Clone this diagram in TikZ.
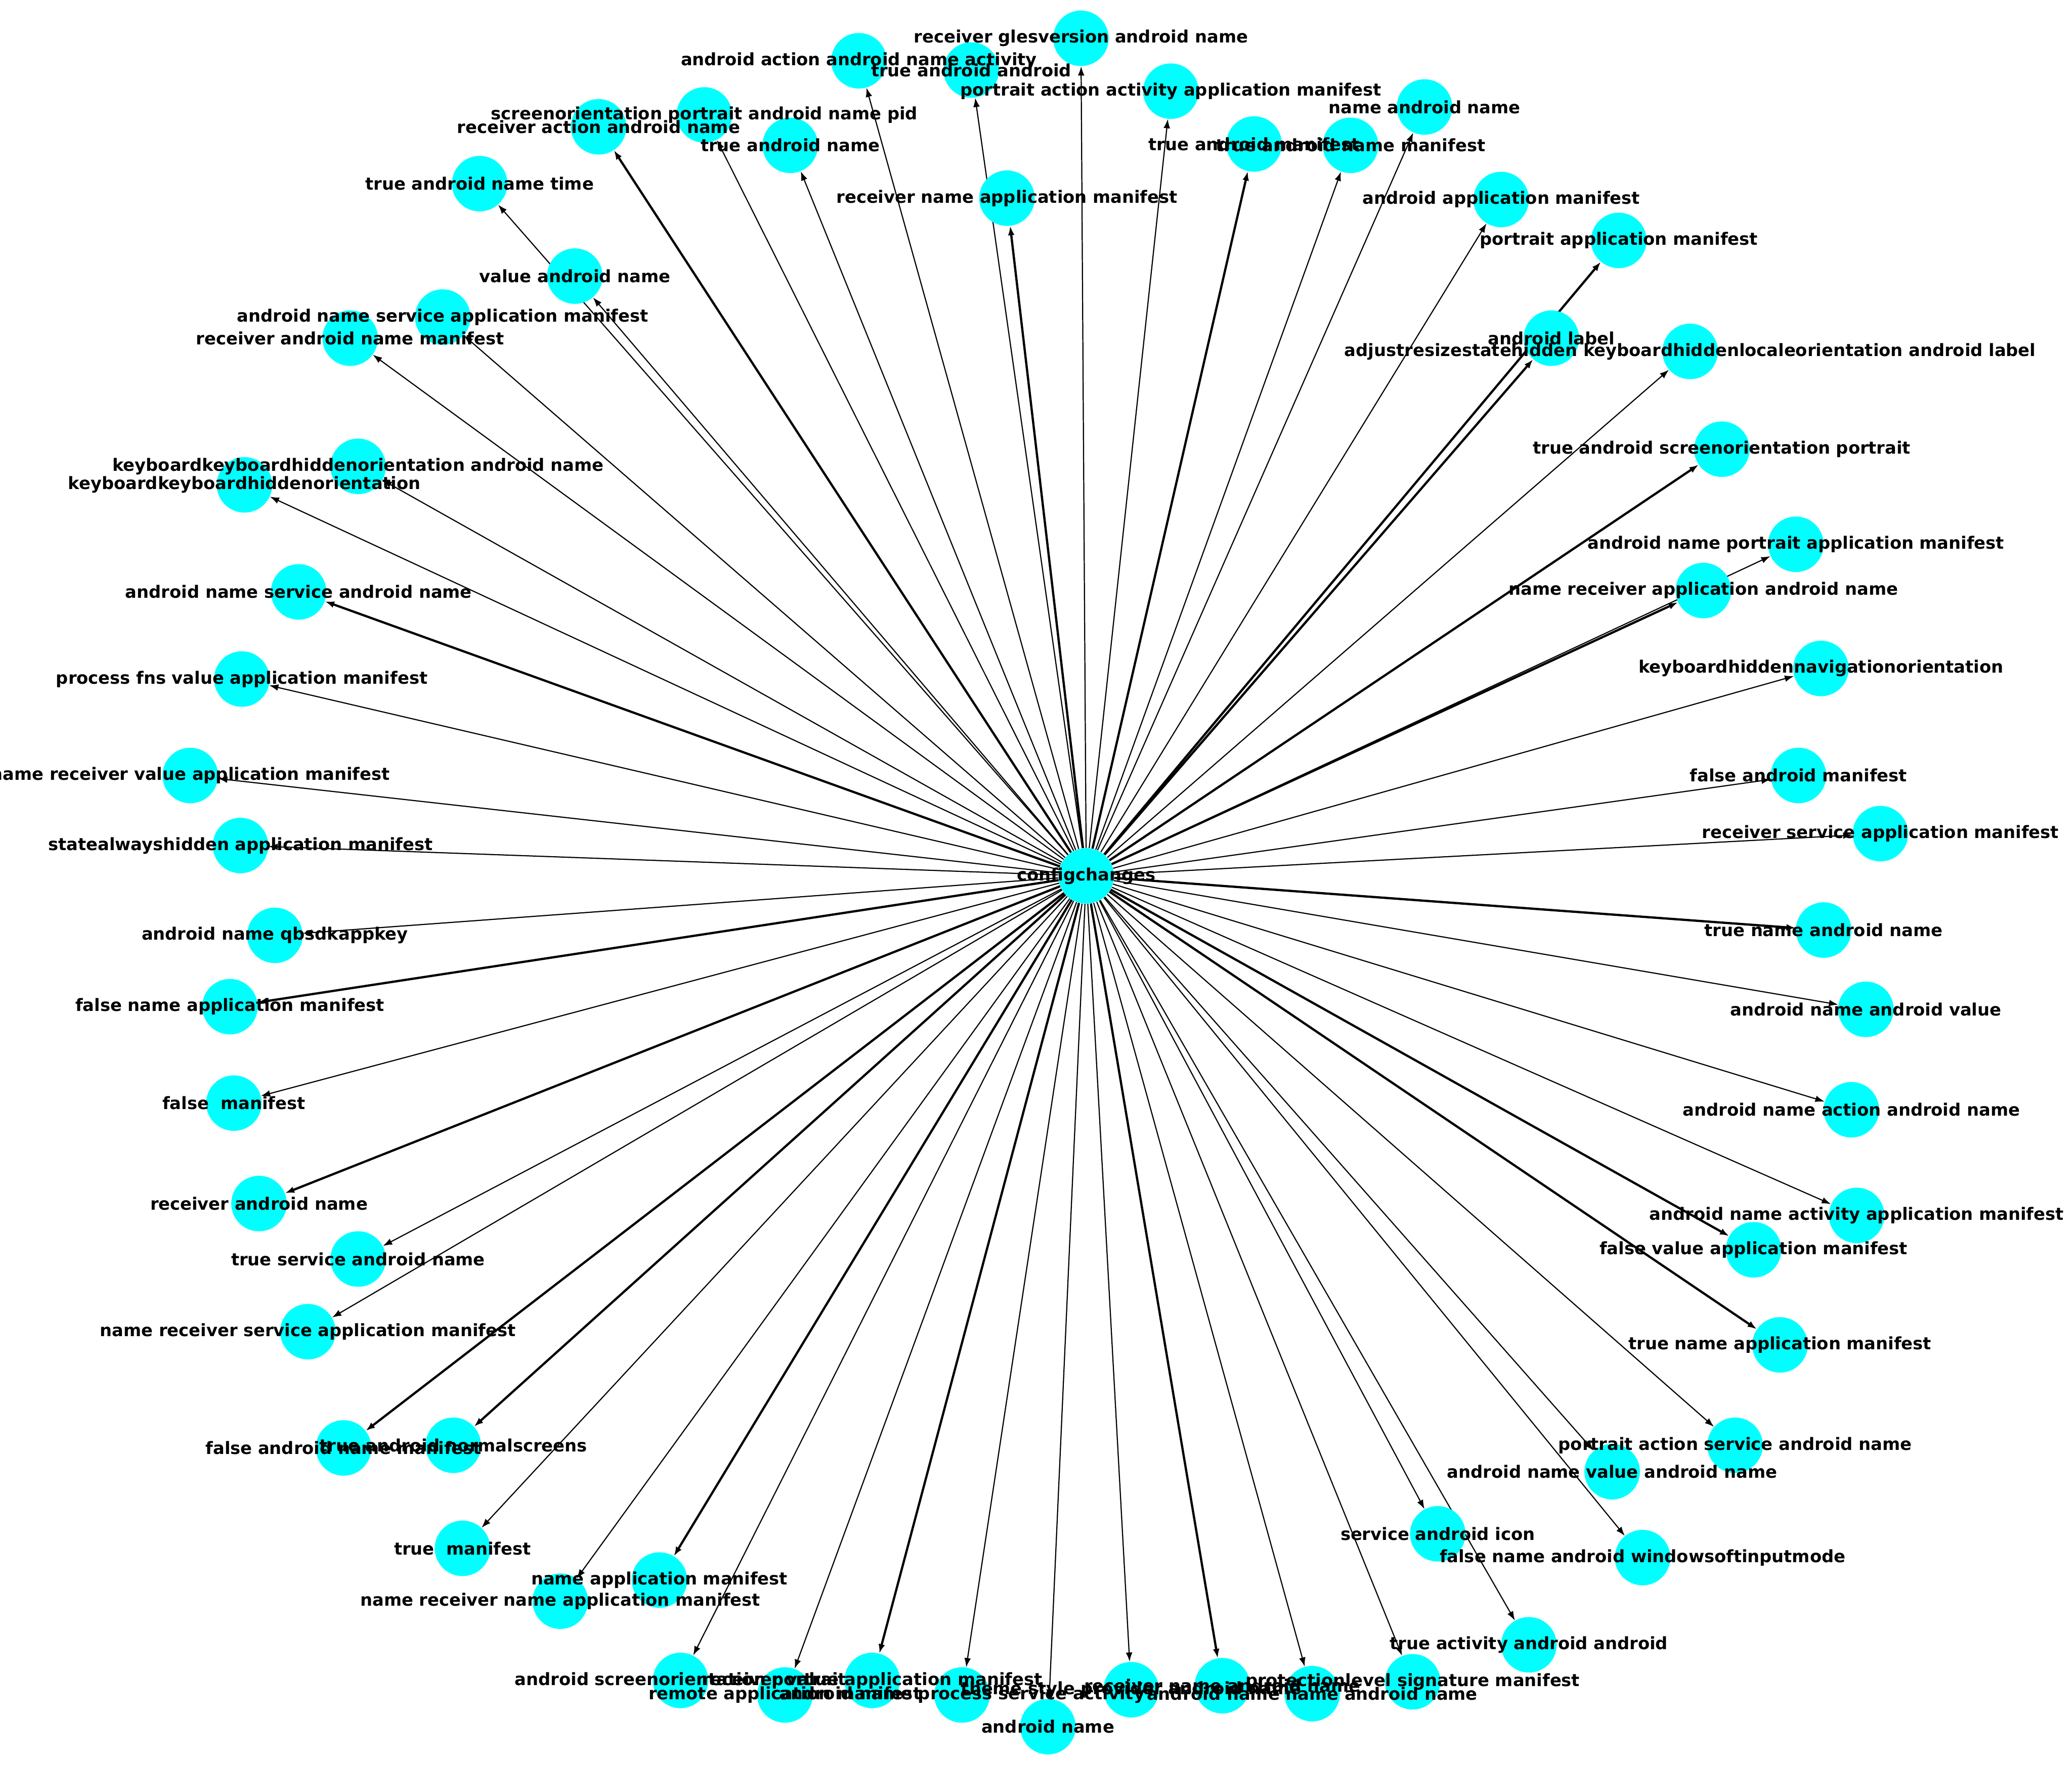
\documentclass[tikz,border=0pt]{standalone}
\usepackage{fontspec}
\setmainfont{DejaVu Sans}
\usetikzlibrary{arrows.meta}
\definecolor{nodecyan}{RGB}{0,255,255}
\pgfdeclarelayer{edges}
\pgfsetlayers{edges,main}

\begin{document}
\begin{tikzpicture}[
    x=1pt, y=-1pt,
    vertex/.style={circle, fill=nodecyan, minimum size=42pt, inner sep=0pt},
    lbl/.style={font=\fontsize{12.9}{14}\selectfont\bfseries, inner sep=0pt},
    link/.style={-{Latex[length=7pt,width=5pt]}, line width=0.85pt},
    boldlink/.style={link, line width=1.7pt}
]
\useasboundingbox (0,0) rectangle (1568,1336);

% hub
\node[vertex] (cfg) at (822,663) {};

% leaves round the hub
\foreach \id/\px/\py/\txt/\wt in {
  1/650/46/android action android name activity/link,
  2/735/53/true android android/link,
  3/818/29/receiver glesversion android name/link,
  4/886/69/portrait action activity application manifest/link,
  5/533/87/screenorientation portrait android name pid/link,
  6/453/96/receiver action android name/boldlink,
  7/598/110/true android name/link,
  8/949/109/true android manifest/boldlink,
  9/1022/110/true android name manifest/link,
  10/1078/81/name android name/link,
  11/762/150/receiver name application manifest/boldlink,
  12/363/139/true android name time/link,
  13/1136/151/android application manifest/link,
  14/1225/182/portrait application manifest/boldlink,
  15/435/209/value android name/link,
  16/335/240/android name service application manifest/link,
  17/265/256/receiver android name manifest/link,
  18/1174/256/android label/boldlink,
  19/1279/266/adjustresizestatehidden keyboardhiddenlocaleorientation android label/link,
  20/271/353/keyboardkeyboardhiddenorientation android name/link,
  21/185/367/keyboardkeyboardhiddenorientation/link,
  22/1303/340/true android screenorientation portrait/boldlink,
  23/1359/412/android name portrait application manifest/link,
  24/1289/447/name receiver application android name/boldlink,
  25/226/448/android name service android name/boldlink,
  26/1378/506/keyboardhiddennavigationorientation/link,
  27/183/514/process fns value application manifest/link,
  28/144/587/name receiver value application manifest/link,
  29/1361/587/false android manifest/link,
  30/182/640/statealwayshidden application manifest/link,
  31/1423/631/receiver service application manifest/link,
  32/208/708/android name qbsdkappkey/link,
  33/1380/704/true name android name/boldlink,
  34/174/762/false name application manifest/boldlink,
  35/1412/764/android name android value/link,
  36/1401/840/android name action android name/link,
  37/177/835/false\ \ manifest/link,
  38/196/911/receiver android name/boldlink,
  39/1405/920/android name activity application manifest/link,
  40/1327/946/false value application manifest/boldlink,
  41/271/953/true service android name/link,
  42/233/1008/name receiver service application manifest/link,
  43/1347/1018/true name application manifest/boldlink,
  44/260/1096/false android name manifest/boldlink,
  45/343/1094/true android normalscreens/boldlink,
  46/1313/1094/portrait action service android name/link,
  47/1220/1114/android name value android name/link,
  48/350/1172/true\ \ manifest/link,
  49/1088/1161/service android icon/link,
  50/1243/1179/false name android windowsoftinputmode/link,
  51/499/1196/name application manifest/boldlink,
  52/424/1212/name receiver name application manifest/link,
  53/1157/1245/true activity android android/link,
  54/515/1272/android screenorientation portrait/link,
  55/594/1283/remote application manifest/link,
  56/660/1272/receiver value application manifest/boldlink,
  57/728/1283/android name process service activity/link,
  58/793/1307/android name/link,
  59/856/1279/theme style provider android name/link,
  60/925/1276/receiver name android name/boldlink,
  61/993/1282/android name name android name/link,
  62/1069/1273/protectionlevel signature manifest/link}{
  \node[vertex] (n\id) at (\px,\py) {};
  \begin{pgfonlayer}{edges}
    \draw[\wt] (cfg) -- (n\id);
  \end{pgfonlayer}
}

% texts on top of every circle
\foreach \id/\txt in {
  1/android action android name activity, 2/true android android,
  3/receiver glesversion android name, 4/portrait action activity application manifest,
  5/screenorientation portrait android name pid, 6/receiver action android name,
  7/true android name, 8/true android manifest, 9/true android name manifest,
  10/name android name, 11/receiver name application manifest,
  12/true android name time, 13/android application manifest,
  14/portrait application manifest, 15/value android name,
  16/android name service application manifest, 17/receiver android name manifest,
  18/android label, 19/adjustresizestatehidden keyboardhiddenlocaleorientation android label,
  20/keyboardkeyboardhiddenorientation android name, 21/keyboardkeyboardhiddenorientation,
  22/true android screenorientation portrait, 23/android name portrait application manifest,
  24/name receiver application android name, 25/android name service android name,
  26/keyboardhiddennavigationorientation, 27/process fns value application manifest,
  28/name receiver value application manifest, 29/false android manifest,
  30/statealwayshidden application manifest, 31/receiver service application manifest,
  32/android name qbsdkappkey, 33/true name android name,
  34/false name application manifest, 35/android name android value,
  36/android name action android name, 37/false\ \ manifest,
  38/receiver android name, 39/android name activity application manifest,
  40/false value application manifest, 41/true service android name,
  42/name receiver service application manifest, 43/true name application manifest,
  44/false android name manifest, 45/true android normalscreens,
  46/portrait action service android name, 47/android name value android name,
  48/true\ \ manifest, 49/service android icon,
  50/false name android windowsoftinputmode, 51/name application manifest,
  52/name receiver name application manifest, 53/true activity android android,
  54/android screenorientation portrait, 55/remote application manifest,
  56/receiver value application manifest, 57/android name process service activity,
  58/android name, 59/theme style provider android name,
  60/receiver name android name, 61/android name name android name,
  62/protectionlevel signature manifest}{
  \node[lbl] (t\id) at (n\id) {\txt};
}
\node[lbl] (tcfg) at (cfg) {configchanges};
\end{tikzpicture}
\end{document}
